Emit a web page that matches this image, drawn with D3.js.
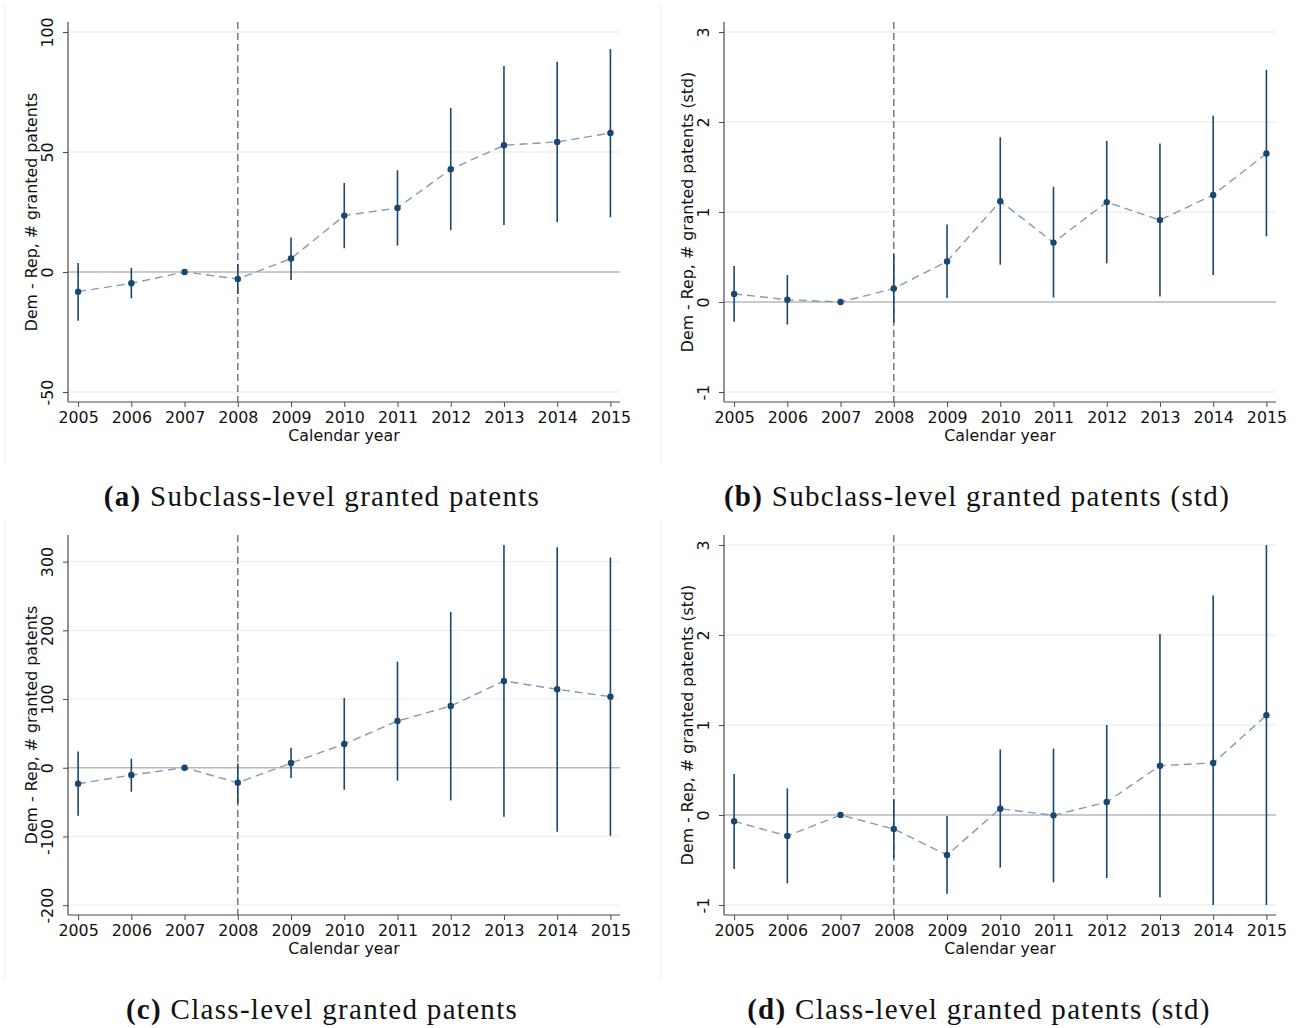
<!DOCTYPE html>
<html>
<head>
<meta charset="utf-8">
<script src="https://cdn.jsdelivr.net/npm/d3@7"></script>
<style>
  html, body { margin: 0; padding: 0; background: #ffffff; }
  svg { display: block; }
</style>
</head>
<body>
<svg id="chart" width="1296" height="1028"></svg>
<script>
// ---------------- DATA ----------------
const years = [2005, 2006, 2007, 2008, 2009, 2010, 2011, 2012, 2013, 2014, 2015];

// (a) Subclass-level granted patents
const estA = [-8.2, -4.7, 0, -2.9, 5.6, 23.5, 26.7, 42.8, 52.8, 54.2, 57.9];
const loA  = [-20.3, -11.0, 0, -9.2, -3.3, 9.9, 11.0, 17.4, 19.6, 20.8, 22.8];
const hiA  = [3.8, 1.7, 0, 3.3, 14.4, 37.1, 42.4, 68.3, 85.8, 87.6, 92.9];

// (b) Subclass-level granted patents (std)
const estB = [0.09, 0.026, 0, 0.15, 0.45, 1.12, 0.66, 1.11, 0.91, 1.19, 1.65];
const loB  = [-0.22, -0.25, 0, -0.23, 0.044, 0.415, 0.05, 0.43, 0.06, 0.30, 0.73];
const hiB  = [0.40, 0.30, 0, 0.53, 0.86, 1.83, 1.28, 1.79, 1.76, 2.07, 2.58];

// (c) Class-level granted patents
const estC = [-23.3, -10.6, 0, -21.8, 6.8, 34.5, 68.0, 89.8, 126.3, 114.2, 103.4];
const loC  = [-69.9, -34.9, 0, -51.9, -15.0, -32.0, -18.9, -47.5, -71.4, -93.2, -99.0];
const hiC  = [23.8, 13.1, 0, 6.3, 29.1, 101.5, 154.4, 226.7, 324.3, 321.0, 305.8];

// (d) Class-level granted patents (std)
const estD = [-0.07, -0.233, 0, -0.156, -0.444, 0.07, -0.004, 0.144, 0.548, 0.578, 1.108];
const loD  = [-0.60, -0.76, 0, -0.48, -0.874, -0.585, -0.748, -0.70, -0.915, -1.0, -1.0];
const hiD  = [0.456, 0.296, 0, 0.174, -0.011, 0.73, 0.737, 1.0, 2.01, 2.44, 3.0];

// tick labels
const ticksA = [-50, 0, 50, 100];
const ticksB = [-1, 0, 1, 2, 3];
const ticksC = [-200, -100, 0, 100, 200, 300];
const ticksD = [-1, 0, 1, 2, 3];

// axis value ranges
const domA = [-54.17, 104.17];
const domB = [-1.111, 3.111];
const domC = [-214.3, 338.7];
const domD = [-1.111, 3.111];
const domX = [2004.81, 2015.18];

const refYear = 2008;
const xTitle = "Calendar year";
const yTitleRaw = "Dem - Rep, # granted patents";
const yTitleStd = "Dem - Rep, # granted patents (std)";

const captions = [
  { tag: "(a)", text: " Subclass-level granted patents" },
  { tag: "(b)", text: " Subclass-level granted patents (std)" },
  { tag: "(c)", text: " Class-level granted patents" },
  { tag: "(d)", text: " Class-level granted patents (std)" }
];

// ---------------- STYLE ----------------
const NAVY = "#1a476f";
const CONNECT = "#7f9cba";
const GRID = "#eaf1f3";
const ZERO = "#b9b9b9";
const AXIS = "#4a4a4a";
const SANS = "'DejaVu Sans', sans-serif";
const SERIF = "'Liberation Serif', 'DejaVu Serif', serif";

const svg = d3.select("#chart");

const panels = [
  { est: estA, lo: loA, hi: hiA, ticks: ticksA, dom: domA, ytitle: yTitleRaw,
    left: 68, right: 620, top: 22, bottom: 402, frameX: 5, frameTop: 6, frameBottom: 465,
    cap: captions[0], capX: 322, capY: 506 },
  { est: estB, lo: loB, hi: hiB, ticks: ticksB, dom: domB, ytitle: yTitleStd,
    left: 724, right: 1276, top: 22, bottom: 402, frameX: 661, frameTop: 6, frameBottom: 465,
    cap: captions[1], capX: 977, capY: 506 },
  { est: estC, lo: loC, hi: hiC, ticks: ticksC, dom: domC, ytitle: yTitleRaw,
    left: 68, right: 620, top: 535, bottom: 915, frameX: 5, frameTop: 519, frameBottom: 978,
    cap: captions[2], capX: 322, capY: 1019 },
  { est: estD, lo: loD, hi: hiD, ticks: ticksD, dom: domD, ytitle: yTitleStd,
    left: 724, right: 1276, top: 535, bottom: 915, frameX: 661, frameTop: 519, frameBottom: 978,
    cap: captions[3], capX: 979, capY: 1019 }
];

panels.forEach(p => {
  const g = svg.append("g");
  const x = d3.scaleLinear().domain(domX).range([p.left, p.right]);
  const y = d3.scaleLinear().domain(p.dom).range([p.bottom, p.top]);

  // faint frame edge
  g.append("line")
    .attr("x1", p.frameX).attr("x2", p.frameX)
    .attr("y1", p.frameTop).attr("y2", p.frameBottom)
    .attr("stroke", "#e8eeec").attr("stroke-width", 1);

  // gridlines
  g.selectAll(".grid").data(p.ticks.filter(t => t !== 0)).enter().append("line")
    .attr("x1", p.left).attr("x2", p.right)
    .attr("y1", d => y(d)).attr("y2", d => y(d))
    .attr("stroke", GRID).attr("stroke-width", 1.3);

  // zero line
  g.append("line")
    .attr("x1", p.left).attr("x2", p.right)
    .attr("y1", y(0)).attr("y2", y(0))
    .attr("stroke", ZERO).attr("stroke-width", 1.3);

  // y axis
  const yAxis = d3.axisLeft(y).tickValues(p.ticks).tickSize(5).tickFormat(d => String(d));
  const ya = g.append("g").attr("transform", `translate(${p.left},0)`).call(yAxis);
  ya.select(".domain").attr("stroke", AXIS).attr("stroke-width", 1.2)
    .attr("d", `M0,${p.top}V${p.bottom}`);
  ya.selectAll(".tick line").attr("stroke", AXIS).attr("stroke-width", 1);
  ya.selectAll(".tick text")
    .attr("font-family", SANS).attr("font-size", 15.8).attr("fill", "#111")
    .attr("x", null).attr("dy", null)
    .attr("text-anchor", "middle")
    .attr("transform", "translate(-15,0) rotate(-90)");

  // x axis
  const xAxis = d3.axisBottom(x).tickValues(years).tickSize(5).tickFormat(d3.format("d"));
  const xa = g.append("g").attr("transform", `translate(0,${p.bottom})`).call(xAxis);
  xa.select(".domain").attr("stroke", AXIS).attr("stroke-width", 1.2)
    .attr("d", `M${p.left},0H${p.right}`);
  xa.selectAll(".tick line").attr("stroke", AXIS).attr("stroke-width", 1);
  xa.selectAll(".tick text")
    .attr("font-family", SANS).attr("font-size", 15.8).attr("fill", "#111")
    .attr("dy", null).attr("y", 21.3);

  // axis titles
  g.append("text")
    .attr("x", (p.left + p.right) / 2).attr("y", p.bottom + 39)
    .attr("text-anchor", "middle")
    .attr("font-family", SANS).attr("font-size", 15.8).attr("fill", "#111")
    .text(xTitle);
  g.append("text")
    .attr("transform", `translate(${p.left - 31.5},${(p.top + p.bottom) / 2}) rotate(-90)`)
    .attr("text-anchor", "middle")
    .attr("font-family", SANS).attr("font-size", 15.8).attr("fill", "#111")
    .text(p.ytitle);

  // vertical reference line
  g.append("line")
    .attr("x1", x(refYear)).attr("x2", x(refYear))
    .attr("y1", p.top).attr("y2", p.bottom)
    .attr("stroke", "#666").attr("stroke-width", 1.3)
    .attr("stroke-dasharray", "7,4");

  const rows = years.map((yr, i) => ({ yr, est: p.est[i], lo: p.lo[i], hi: p.hi[i] }));

  // connecting dashed line
  const line = d3.line().x(d => x(d.yr)).y(d => y(d.est));
  g.append("path").datum(rows)
    .attr("d", line)
    .attr("fill", "none")
    .attr("stroke", CONNECT).attr("stroke-width", 1.4)
    .attr("stroke-dasharray", "8,5");

  // CI lines
  g.selectAll(".ci").data(rows.filter(d => d.hi !== d.lo)).enter().append("line")
    .attr("x1", d => x(d.yr)).attr("x2", d => x(d.yr))
    .attr("y1", d => y(d.lo)).attr("y2", d => y(d.hi))
    .attr("stroke", NAVY).attr("stroke-width", 1.6);

  // points
  g.selectAll(".pt").data(rows).enter().append("circle")
    .attr("cx", d => x(d.yr)).attr("cy", d => y(d.est))
    .attr("r", 3.2)
    .attr("fill", NAVY);

  // caption
  const cap = g.append("text")
    .attr("x", p.capX).attr("y", p.capY)
    .attr("text-anchor", "middle")
    .attr("font-family", SERIF).attr("font-size", 29)
    .attr("letter-spacing", 1.3).attr("fill", "#111");
  cap.append("tspan").attr("font-weight", "bold").text(p.cap.tag);
  cap.append("tspan").text(p.cap.text);
});
</script>
</body>
</html>
